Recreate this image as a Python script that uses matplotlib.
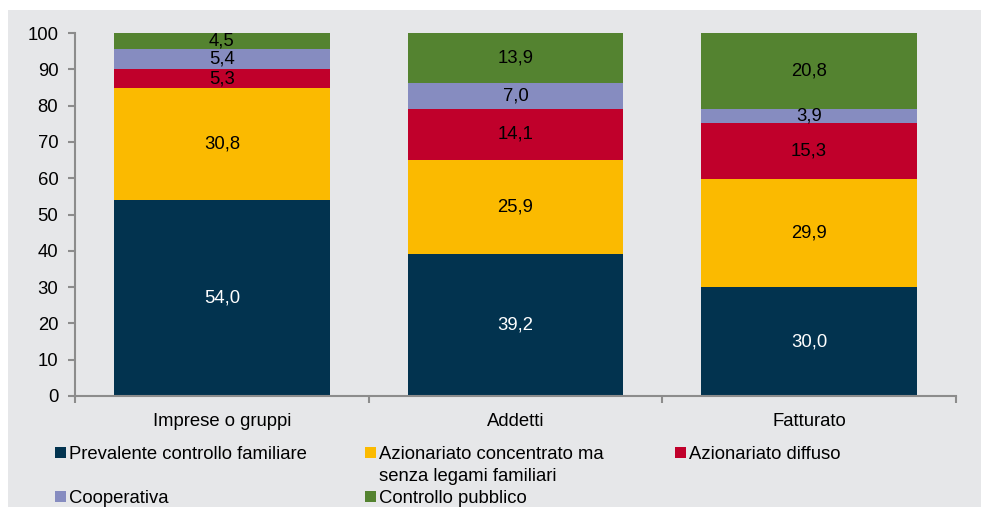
import matplotlib.pyplot as plt
from matplotlib.patches import Patch, Rectangle
import numpy as np

plt.rcParams['font.family'] = ['Liberation Sans', 'DejaVu Sans']
fs = 13.3

# dati
categorie = ['Imprese o gruppi', 'Addetti', 'Fatturato']
serie = ['Prevalente controllo familiare',
         'Azionariato concentrato ma\nsenza legami familiari',
         'Azionariato diffuso', 'Cooperativa', 'Controllo pubblico']
familiare = [54.0, 39.2, 30.0]
concentrato = [30.8, 25.9, 29.9]
diffuso = [5.3, 14.1, 15.3]
cooperativa = [5.4, 7.0, 3.9]
pubblico = [4.5, 13.9, 20.8]
colori = ['#02334F', '#FBBA00', '#C0002B', '#868CC0', '#548330']

valori = [familiare, concentrato, diffuso, cooperativa, pubblico]

fig = plt.figure(figsize=(9.81, 5.07), dpi=100)
fig.patch.set_facecolor('white')
# sfondo grigio
fig.add_artist(Rectangle((8 / 981, 0), 1, 497 / 507, transform=fig.transFigure,
                         facecolor='#E6E7E9', edgecolor='none', zorder=-10))

ax = fig.add_axes([75 / 981, 1 - 396 / 507, (956 - 75) / 981, (396 - 33) / 507])
ax.patch.set_visible(False)

x = np.arange(len(categorie))
base = np.zeros(len(categorie))
handles = []
for i, (v, c) in enumerate(zip(valori, colori)):
    v = np.array(v)
    b = ax.bar(x, v, width=0.735, bottom=base, color=c, edgecolor='none', zorder=2)
    handles.append(b)
    col = 'white' if i == 0 else 'black'
    for xi, yi, vi in zip(x, base, v):
        ax.text(xi, yi + vi / 2, f'{vi:.1f}'.replace('.', ','), ha='center', va='center',
                color=col, fontsize=fs, zorder=3)
    base = base + v

ax.set_ylim(0, 100)
ax.set_xlim(-0.5, 2.5)
ax.set_yticks(range(0, 101, 10))
ax.set_xticks(x)
ax.set_xticklabels(categorie)
ax.set_xticks([-0.5, 0.5, 1.5, 2.5], minor=True)

grigio = '#8C8C8C'
for s in ['top', 'right']:
    ax.spines[s].set_visible(False)
for s in ['left', 'bottom']:
    ax.spines[s].set_color(grigio)
    ax.spines[s].set_linewidth(1.5)
ax.tick_params(axis='y', length=5, width=1.5, color=grigio, pad=7, labelsize=fs)
ax.tick_params(axis='x', which='major', length=0, pad=12, labelsize=fs)
ax.tick_params(axis='x', which='minor', length=5, width=1.5, color=grigio)


def vuoto():
    return Patch(facecolor='none', edgecolor='none')


riga1, riga2 = serie[1].split('\n')
opts = dict(loc='upper left', frameon=False, borderpad=0, fontsize=fs,
            handlelength=0.6, handleheight=0.6, handletextpad=0.15,
            labelspacing=0.27, borderaxespad=0)
y0 = 1 - 446 / 507
fig.legend([handles[0], vuoto(), handles[3]], [serie[0], ' ', serie[3]],
           bbox_to_anchor=(55 / 981, y0), **opts)
fig.legend([handles[1], vuoto(), handles[4]], [riga1, riga2, serie[4]],
           bbox_to_anchor=(365 / 981, y0), **opts)
fig.legend([handles[2]], [serie[2]],
           bbox_to_anchor=(675 / 981, y0), **opts)

fig.savefig('out.png', dpi=100)
